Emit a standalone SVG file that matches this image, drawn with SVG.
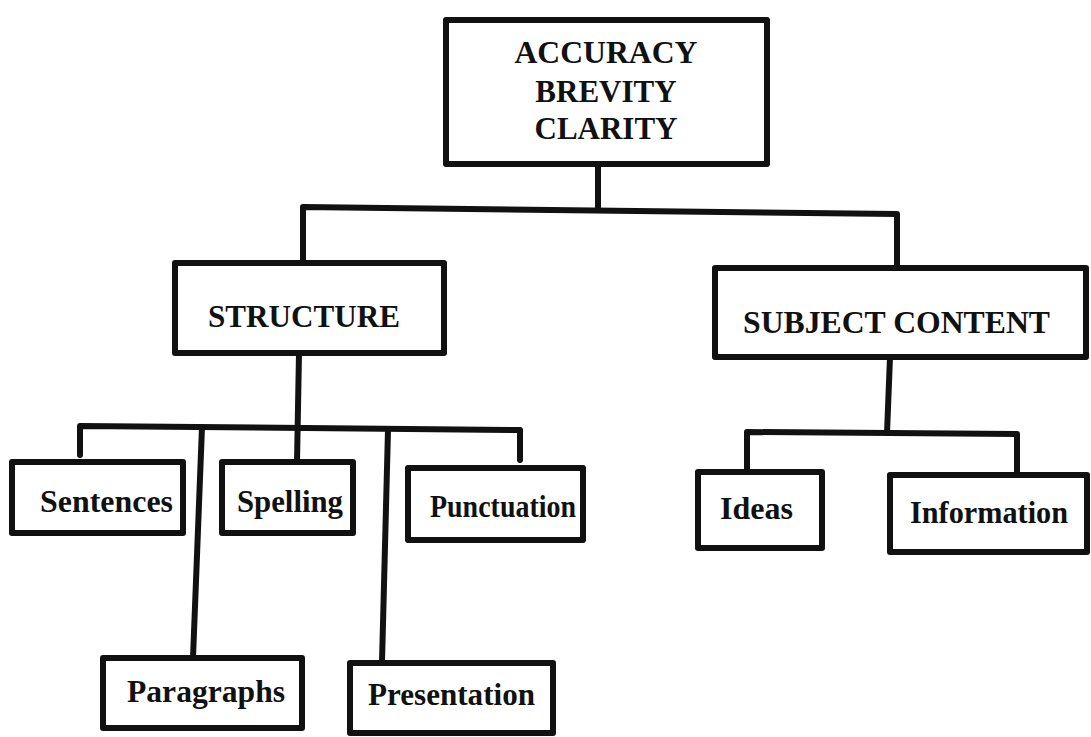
<svg xmlns="http://www.w3.org/2000/svg" width="1091" height="737" viewBox="0 0 1091 737">
<style>
.box{fill:#fff;stroke:#111;stroke-width:6;stroke-linejoin:round}
.con{fill:none;stroke:#111;stroke-width:6;stroke-linejoin:round;stroke-linecap:round}
.t1{font-family:"Liberation Serif","Times New Roman",serif;font-weight:bold;font-size:31px;fill:#111}
.t2{font-family:"Liberation Serif","Times New Roman",serif;font-weight:bold;font-size:31px;fill:#111}
</style>
<rect width="1091" height="737" fill="#fff"/>
<g id="connectors">
<polyline class="con" points="598,164 598,208"/>
<polyline class="con" points="303,263 303,207 897,214 897,268"/>
<polyline class="con" points="299,353 297,462"/>
<polyline class="con" points="80,455 80,426 520,430 520,460"/>
<polyline class="con" points="202,427 193,658"/>
<polyline class="con" points="388,430 382,662"/>
<polyline class="con" points="890,357 887,433"/>
<polyline class="con" points="747,472 747,432 1017,434 1017,475"/>
</g>
<g id="top">
<rect class="box" x="446" y="20" width="321" height="144"/>
<text class="t1" x="606" y="63" text-anchor="middle" textLength="183" lengthAdjust="spacingAndGlyphs">ACCURACY</text>
<text class="t1" x="606" y="102" text-anchor="middle">BREVITY</text>
<text class="t1" x="606" y="139" text-anchor="middle">CLARITY</text>
</g>
<g id="structure">
<rect class="box" x="175" y="263" width="269" height="90"/>
<text class="t1" x="208" y="327" textLength="192" lengthAdjust="spacingAndGlyphs">STRUCTURE</text>
</g>
<g id="subject-content">
<rect class="box" x="715" y="268" width="371" height="89"/>
<text class="t1" x="743" y="333" textLength="307" lengthAdjust="spacingAndGlyphs">SUBJECT CONTENT</text>
</g>
<g id="sentences">
<rect class="box" x="12" y="462" width="171" height="71"/>
<text class="t2" x="40" y="512" textLength="133" lengthAdjust="spacingAndGlyphs">Sentences</text>
</g>
<g id="spelling">
<rect class="box" x="222" y="462" width="131" height="71"/>
<text class="t2" x="237" y="512" textLength="106" lengthAdjust="spacingAndGlyphs">Spelling</text>
</g>
<g id="punctuation">
<rect class="box" x="408" y="468" width="175" height="72"/>
<text class="t2" x="430" y="517" textLength="146" lengthAdjust="spacingAndGlyphs">Punctuation</text>
</g>
<g id="paragraphs">
<rect class="box" x="103" y="658" width="199" height="70"/>
<text class="t2" x="127" y="702" textLength="158" lengthAdjust="spacingAndGlyphs">Paragraphs</text>
</g>
<g id="presentation">
<rect class="box" x="350" y="663" width="203" height="70"/>
<text class="t2" x="368" y="705" textLength="167" lengthAdjust="spacingAndGlyphs">Presentation</text>
</g>
<g id="ideas">
<rect class="box" x="698" y="472" width="124" height="76"/>
<text class="t2" x="720" y="519" textLength="73" lengthAdjust="spacingAndGlyphs">Ideas</text>
</g>
<g id="information">
<rect class="box" x="890" y="475" width="197" height="77"/>
<text class="t2" x="910" y="523" textLength="158" lengthAdjust="spacingAndGlyphs">Information</text>
</g>
</svg>
